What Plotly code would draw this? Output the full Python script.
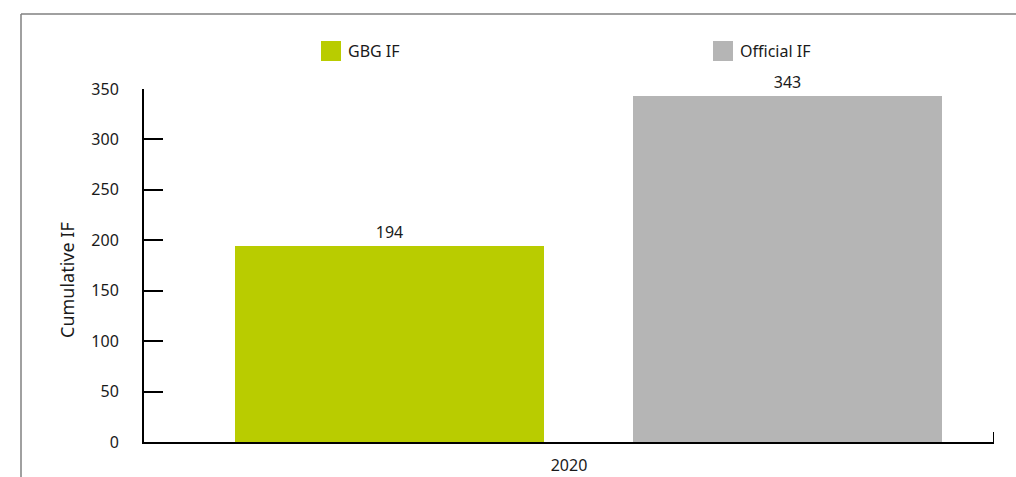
import plotly.graph_objects as go

# Data
categories = ["2020"]
series_names = ["GBG IF", "Official IF"]
series_values = [[194], [343]]
series_colors = ["#b9cc00", "#b5b5b5"]
y_ticks = [0, 50, 100, 150, 200, 250, 300, 350]

W, H = 1016, 477
L, R, T, B = 144, 22, 89, 35
PW, PH = W - L - R, H - T - B


def px_x(x):
    return (x - L) / PW


def px_y(y):
    return (H - B - y) / PH


FONT = "Noto Sans"
TXT = "#1a1a1a"
FS = 16

# bar placement within the single category slot (in category units)
bar_width = 0.3635
bar_offsets = [-0.393, 0.0753]

fig = go.Figure()
for name, vals, col, off in zip(series_names, series_values, series_colors, bar_offsets):
    fig.add_trace(go.Bar(
        x=categories, y=vals, name=name,
        marker=dict(color=col, line=dict(width=0)),
        width=bar_width, offset=off,
        text=[str(v) for v in vals], textposition="outside",
        textfont=dict(family=FONT, size=FS, color=TXT),
        cliponaxis=False, showlegend=False,
    ))

shapes = [
    # outer frame (top and left edges)
    dict(type="line", xref="paper", yref="paper",
         x0=px_x(21), x1=px_x(W + 5), y0=px_y(14), y1=px_y(14),
         line=dict(color="#808080", width=1.5)),
    dict(type="line", xref="paper", yref="paper",
         x0=px_x(21), x1=px_x(21), y0=px_y(14), y1=px_y(H + 5),
         line=dict(color="#808080", width=1.5)),
    # category boundary tick at the right end of the x axis
    dict(type="line", xref="x", yref="paper",
         x0=0.5, x1=0.5, y0=0, y1=px_y(432),
         line=dict(color="black", width=2)),
]
annotations = [
    dict(text="Cumulative IF", xref="paper", yref="paper",
         x=px_x(67), y=px_y(280), textangle=-90, showarrow=False,
         font=dict(family=FONT, size=18, color=TXT),
         xanchor="center", yanchor="middle"),
]

# legend swatches and labels
legend_x = [321, 713]
for name, col, lx in zip(series_names, series_colors, legend_x):
    shapes.append(dict(type="rect", xref="paper", yref="paper",
                       x0=px_x(lx), x1=px_x(lx + 20), y0=px_y(61), y1=px_y(41),
                       fillcolor=col, line=dict(width=0)))
    annotations.append(dict(text=name, xref="paper", yref="paper",
                            x=px_x(lx + 25), y=px_y(51), showarrow=False,
                            xanchor="left", yanchor="middle",
                            font=dict(family=FONT, size=FS, color=TXT)))

fig.update_layout(
    width=W, height=H,
    margin=dict(l=L, r=R, t=T, b=B),
    paper_bgcolor="white", plot_bgcolor="white",
    font=dict(family=FONT, size=FS, color=TXT),
    bargap=0, showlegend=False,
    shapes=shapes, annotations=annotations,
    xaxis=dict(
        type="category", range=[-0.5, 0.5], automargin=False,
        showline=True, linecolor="black", linewidth=2,
        ticks="inside", tickson="boundaries", ticklen=10, tickwidth=2,
        tickcolor="black", showgrid=False, zeroline=False,
        ticklabelstandoff=8,
        tickfont=dict(family=FONT, size=FS, color=TXT),
    ),
    yaxis=dict(
        range=[0, 350], tickvals=y_ticks, automargin=False,
        showline=True, linecolor="black", linewidth=2,
        ticks="inside", ticklen=19, tickwidth=2, tickcolor="black",
        showgrid=False, zeroline=False,
        ticklabelstandoff=20,
        tickfont=dict(family=FONT, size=FS, color=TXT),
    ),
)

fig.write_html("out.html")
